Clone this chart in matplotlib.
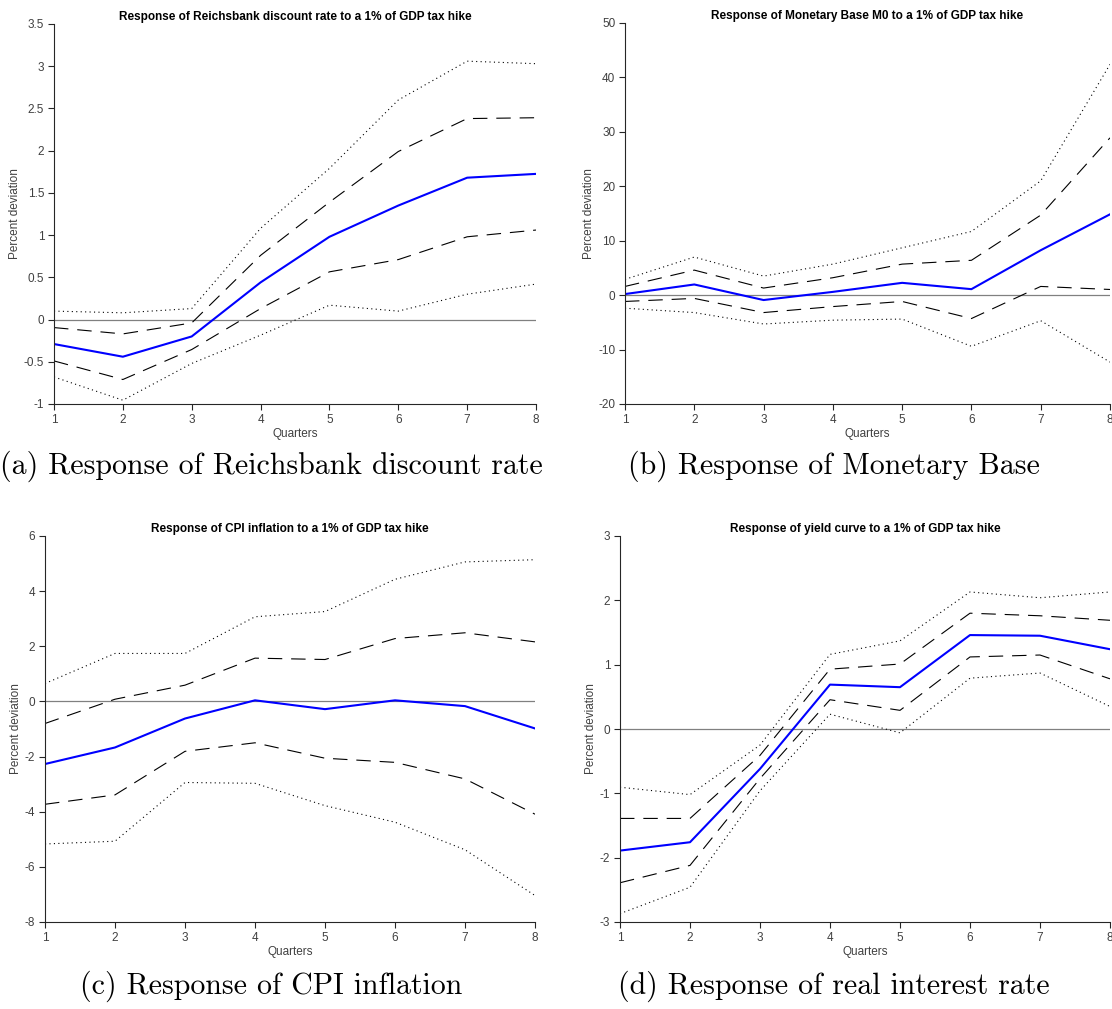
import matplotlib
matplotlib.use("Agg")
import matplotlib.pyplot as plt

quarters = [1, 2, 3, 4, 5, 6, 7, 8]

# (a) Reichsbank discount rate
rate_mid = [-0.29, -0.44, -0.20, 0.44, 0.98, 1.35, 1.68, 1.725]
rate_hi68 = [-0.095, -0.17, -0.04, 0.76, 1.39, 1.99, 2.38, 2.39]
rate_lo68 = [-0.49, -0.71, -0.355, 0.13, 0.565, 0.71, 0.98, 1.06]
rate_hi90 = [0.10, 0.08, 0.13, 1.08, 1.79, 2.60, 3.06, 3.03]
rate_lo90 = [-0.68, -0.955, -0.52, -0.185, 0.17, 0.10, 0.30, 0.42]

# (b) Monetary base M0
m0_mid = [0.2, 1.96, -0.9, 0.6, 2.26, 1.1, 8.25, 14.85]
m0_hi68 = [1.6, 4.6, 1.3, 3.2, 5.7, 6.4, 14.7, 28.9]
m0_lo68 = [-1.16, -0.6, -3.2, -2.1, -1.16, -4.3, 1.6, 1.04]
m0_hi90 = [2.9, 7.0, 3.5, 5.7, 8.7, 11.7, 21.0, 42.4]
m0_lo90 = [-2.4, -3.2, -5.3, -4.6, -4.4, -9.4, -4.7, -12.3]

# (c) CPI inflation
cpi_mid = [-2.27, -1.67, -0.62, 0.04, -0.28, 0.04, -0.17, -0.98]
cpi_hi68 = [-0.8, 0.08, 0.59, 1.57, 1.52, 2.28, 2.49, 2.16]
cpi_lo68 = [-3.73, -3.39, -1.81, -1.50, -2.06, -2.21, -2.81, -4.09]
cpi_hi90 = [0.65, 1.74, 1.74, 3.07, 3.26, 4.43, 5.06, 5.14]
cpi_lo90 = [-5.17, -5.07, -2.94, -2.97, -3.78, -4.38, -5.38, -7.04]

# (d) yield curve / real interest rate
yc_mid = [-1.89, -1.76, -0.62, 0.69, 0.65, 1.46, 1.45, 1.24]
yc_hi68 = [-1.39, -1.39, -0.41, 0.93, 1.01, 1.80, 1.76, 1.69]
yc_lo68 = [-2.39, -2.12, -0.77, 0.455, 0.29, 1.12, 1.15, 0.78]
yc_hi90 = [-0.905, -1.02, -0.25, 1.16, 1.37, 2.13, 2.04, 2.13]
yc_lo90 = [-2.87, -2.46, -0.96, 0.23, -0.06, 0.79, 0.87, 0.35]

titles = [
    "Response of Reichsbank discount rate to a 1% of GDP tax hike",
    "Response of Monetary Base M0 to a 1% of GDP tax hike",
    "Response of CPI inflation to a 1% of GDP tax hike",
    "Response of yield curve to a 1% of GDP tax hike",
]
captions = [
    "(a) Response of Reichsbank discount rate",
    "(b) Response of Monetary Base",
    "(c) Response of CPI inflation",
    "(d) Response of real interest rate",
]
yticks = [
    [-1, -0.5, 0, 0.5, 1, 1.5, 2, 2.5, 3, 3.5],
    [-20, -10, 0, 10, 20, 30, 40, 50],
    [-8, -6, -4, -2, 0, 2, 4, 6],
    [-3, -2, -1, 0, 1, 2, 3],
]
series = [
    (rate_mid, rate_hi68, rate_lo68, rate_hi90, rate_lo90),
    (m0_mid, m0_hi68, m0_lo68, m0_hi90, m0_lo90),
    (cpi_mid, cpi_hi68, cpi_lo68, cpi_hi90, cpi_lo90),
    (yc_mid, yc_hi68, yc_lo68, yc_hi90, yc_lo90),
]

W, H = 1112, 1009
# axes boxes in pixels: left, right, top, bottom
boxes = [(54, 536, 24, 404), (625, 1110, 23, 404), (45, 535, 536, 922), (620, 1110, 536, 922)]
caption_pos = [(271, 466), (834, 466), (271, 986), (834, 986)]

plt.rcParams["font.family"] = ["Liberation Sans", "DejaVu Sans"]
fig = plt.figure(figsize=(W / 100, H / 100), dpi=100)

for i in range(4):
    l, r, t, b = boxes[i]
    ax = fig.add_axes([l / W, 1 - b / H, (r - l) / W, (b - t) / H])
    mid, hi68, lo68, hi90, lo90 = series[i]
    ax.axhline(0, color="#808080", lw=0.9, zorder=1)
    ax.plot(quarters, hi90, color="black", lw=0.8, ls=(0, (1, 3)))
    ax.plot(quarters, lo90, color="black", lw=0.8, ls=(0, (1, 3)))
    ax.plot(quarters, hi68, color="black", lw=0.8, ls=(0, (13, 8)))
    ax.plot(quarters, lo68, color="black", lw=0.8, ls=(0, (13, 8)))
    ax.plot(quarters, mid, color="#0000ff", lw=1.5)
    ax.set_xlim(1, 8)
    ax.set_ylim(yticks[i][0], yticks[i][-1])
    ax.set_xticks(quarters)
    ax.set_yticks(yticks[i])
    ax.set_yticklabels([f"{v:g}" for v in yticks[i]])
    for side in ("top", "right"):
        ax.spines[side].set_visible(False)
    for side in ("left", "bottom"):
        ax.spines[side].set_color("#262626")
        ax.spines[side].set_linewidth(0.8)
    ax.tick_params(direction="out", length=4, width=0.8, color="#262626",
                   labelsize=8.5, labelcolor="#404040", pad=3)
    ax.set_title(titles[i], fontsize=8.5, fontweight="bold", pad=3)
    ax.set_xlabel("Quarters", fontsize=8.5, color="#404040", labelpad=2)
    ax.set_ylabel("Percent deviation", fontsize=8.5, color="#404040", labelpad=2)
    cx, cy = caption_pos[i]
    fig.text(cx / W, 1 - cy / H, captions[i], family="cmr10", fontsize=21.5,
             ha="center", va="center")

fig.savefig("out.png", dpi=100)
